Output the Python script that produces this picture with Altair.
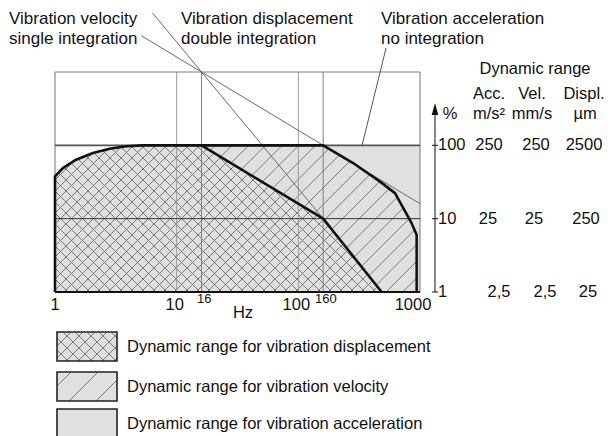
import numpy as np
import pandas as pd
import altair as alt

# ---------------- values ----------------
freq_ticks = [1, 10, 100, 1000]
freq_tick_labels = ["1", "10", "100", "1000"]
freq_marks = [16, 160]
freq_mark_labels = ["16", "160"]
grid_freqs = [10, 16, 100, 160]

pct_ticks = [100, 10, 1]
pct_tick_labels = ["100", "10", "1"]

# rising edge at low frequencies (shared by the three ranges)
curve_f = [1, 1.16, 1.49, 2.05, 2.81, 3.85, 5.25]
curve_p = [37.6, 49, 63.7, 78.7, 90, 97, 100]
# displacement range falls off from 16 Hz
disp_f = [16, 160, 484]
disp_p = [100, 10, 1]
# velocity range falls off from 160 Hz
vel_f = [160, 282, 469, 623, 729, 855, 939, 939]
vel_p = [100, 57.4, 32, 22.3, 13.9, 8.6, 6.0, 1]
# acceleration range stays flat up to 1000 Hz
acc_f = [1000, 1000]
acc_p = [100, 1]

# slope lines of the integrations and the leader to the acceleration label
velline_f = [5.1, 1000]
velline_p = [3140, 16]
displine_f = [6.3, 160]
displine_p = [6450, 10]
accline_f = [526, 334]
accline_p = [2125, 100]

top_labels = [["Vibration velocity", "single integration"],
              ["Vibration displacement", "double integration"],
              ["Vibration acceleration", "no integration"]]
table_title = "Dynamic range"
table_head = ["Acc.", "Vel.", "Displ."]
table_units = ["m/s²", "mm/s", "µm"]
table_vals = [["250", "250", "2500"], ["25", "25", "250"], ["2,5", "2,5", "25"]]
legend_labels = ["Dynamic range for vibration displacement",
                 "Dynamic range for vibration velocity",
                 "Dynamic range for vibration acceleration"]

# ---------------- layout ----------------
W, H = 365, 220
DX, DY = W / 3.0, H / 3.0
FONT = "Liberation Sans"
FS = 16.5
GRAY_FILL = "#e0e0e0"
HATCH = "#7a7a7a"

xs = alt.Scale(type="log", domain=[1, 1000], nice=False)
ys = alt.Scale(type="log", domain=[1, 1000], nice=False)


def hatch(us, vs, sign, step, phase=0.0):
    """Clip the family of lines v - sign*u = c to a polygon given in (u, v)."""
    u = np.asarray(us, float)
    v = np.asarray(vs, float)
    s = v - sign * u
    segs = []
    c = np.floor((s.min() - phase) / step) * step + phase
    n = len(u)
    while c <= s.max():
        pts = []
        for i in range(n):
            j = (i + 1) % n
            s1, s2 = s[i], s[j]
            if (s1 <= c < s2) or (s2 <= c < s1):
                t = (c - s1) / (s2 - s1)
                pts.append((u[i] + t * (u[j] - u[i]), v[i] + t * (v[j] - v[i])))
        pts.sort()
        for k in range(0, len(pts) - 1, 2):
            segs.append((pts[k][0], pts[k][1], pts[k + 1][0], pts[k + 1][1]))
        c += step
    return segs


def data_hatch(fs, ps, sign, step, phase=0.0):
    us = np.log10(fs) * DX
    vs = np.log10(ps) * DY
    segs = hatch(us, vs, sign, step, phase)
    rows = [dict(x=10 ** (a / DX), y=10 ** (b / DY), x2=10 ** (c / DX), y2=10 ** (d / DY))
            for a, b, c, d in segs]
    return pd.DataFrame(rows)


def pixel_hatch(x0, y0, x1, y1, sign, step, phase=0.0):
    us = [x0, x1, x1, x0]
    vs = [H - y1, H - y1, H - y0, H - y0]
    segs = hatch(us, vs, sign, step, phase)
    rows = [dict(px=a, py=H - b, px2=c, py2=H - d) for a, b, c, d in segs]
    return pd.DataFrame(rows)


def seg_rule(df, color, width=1.0):
    return alt.Chart(df).mark_rule(color=color, strokeWidth=width).encode(
        x=alt.X("x:Q", scale=xs, axis=None), y=alt.Y("y:Q", scale=ys, axis=None),
        x2="x2:Q", y2="y2:Q")


def pix_rule(df, color, width=1.0):
    return alt.Chart(df).mark_rule(color=color, strokeWidth=width).encode(
        x=alt.X("px:Q", scale=None), y=alt.Y("py:Q", scale=None),
        x2="px2:Q", y2="py2:Q")


def path_line(fs, ps, color, width, dash=None):
    df = pd.DataFrame({"f": fs, "p": ps, "i": range(len(fs))})
    kw = dict(color=color, strokeWidth=width, strokeJoin="round", strokeCap="butt")
    if dash:
        kw["strokeDash"] = dash
    return alt.Chart(df).mark_line(**kw).encode(
        x=alt.X("f:Q", scale=xs, axis=None), y=alt.Y("p:Q", scale=ys, axis=None),
        order="i:Q")


def area(fs, ps, color):
    df = pd.DataFrame({"f": fs, "p": ps, "base": [1] * len(fs)})
    return alt.Chart(df).mark_area(color=color, interpolate="linear").encode(
        x=alt.X("f:Q", scale=xs, axis=None), y=alt.Y("p:Q", scale=ys, axis=None),
        y2="base:Q")


def pix_text(df, size=FS, align="left", baseline="alphabetic"):
    return alt.Chart(df).mark_text(font=FONT, fontSize=size, align=align,
                                   baseline=baseline, color="#111").encode(
        x=alt.X("px:Q", scale=None), y=alt.Y("py:Q", scale=None), text="t:N")


# ---------------- plot area fills and hatching ----------------
acc_area = area(curve_f + [acc_f[0]], curve_p + [acc_p[0]], GRAY_FILL)
vel_poly_f = [1] + curve_f + vel_f
vel_poly_p = [1] + curve_p + vel_p
disp_poly_f = [1] + curve_f + disp_f
disp_poly_p = [1] + curve_p + disp_p

vel_hatch = seg_rule(data_hatch(vel_poly_f, vel_poly_p, 1, 16.7, 3.0), HATCH, 1)
disp_area = area(curve_f + disp_f, curve_p + disp_p, GRAY_FILL)
disp_hatch_a = seg_rule(data_hatch(disp_poly_f, disp_poly_p, 1, 11.0, 2.0), HATCH, 1)
disp_hatch_b = seg_rule(data_hatch(disp_poly_f, disp_poly_p, -1, 11.0, 2.0), HATCH, 1)

# ---------------- grid and frame ----------------
vgrid = alt.Chart(pd.DataFrame({"f": grid_freqs, "lo": 1, "hi": 1000,
                                "c": ["a", "b", "a", "b"]})).mark_rule(strokeWidth=1).encode(
    x=alt.X("f:Q", scale=xs, axis=None), y=alt.Y("lo:Q", scale=ys, axis=None), y2="hi:Q",
    color=alt.Color("c:N", scale=alt.Scale(domain=["a", "b"], range=["#9a9a9a", "#808080"]),
                    legend=None))
frame_side = alt.Chart(pd.DataFrame({"f": [1, 1000], "lo": 1, "hi": 1000})).mark_rule(
    color="#8a8a8a", strokeWidth=1.2).encode(
    x=alt.X("f:Q", scale=xs, axis=None), y=alt.Y("lo:Q", scale=ys, axis=None), y2="hi:Q")
frame_top = alt.Chart(pd.DataFrame({"p": [1000], "lo": 1, "hi": 1000})).mark_rule(
    color="#808080", strokeWidth=1).encode(
    y=alt.Y("p:Q", scale=ys, axis=None), x=alt.X("lo:Q", scale=xs, axis=None), x2="hi:Q")
hline10 = alt.Chart(pd.DataFrame({"p": [10], "lo": 1, "hi": 1000})).mark_rule(
    color="#333", strokeWidth=1).encode(
    y=alt.Y("p:Q", scale=ys, axis=None), x=alt.X("lo:Q", scale=xs, axis=None), x2="hi:Q")
hline100 = alt.Chart(pd.DataFrame({"p": [100], "lo": 1, "hi": 1000})).mark_rule(
    color="#555", strokeWidth=1.6).encode(
    y=alt.Y("p:Q", scale=ys, axis=None), x=alt.X("lo:Q", scale=xs, axis=None), x2="hi:Q")

# ---------------- slope lines ----------------
l_vel = path_line(velline_f, velline_p, "#6a6a6a", 1)
l_disp = path_line(displine_f, displine_p, "#6a6a6a", 1)
l_acc = path_line(accline_f, accline_p, "#555", 1)

# ---------------- thick outlines ----------------
o_vel = path_line(vel_poly_f, vel_poly_p, "#111", 2.6)
o_disp = path_line(disp_f, disp_p, "#111", 2.6)
o_bottom = path_line([1, 1000], [1, 1], "#111", 2.2)

# ---------------- x labels ----------------
xlab_rows = []
xlab_dx = [0, -2, -2, -7]
for f, t, d in zip(freq_ticks, freq_tick_labels, xlab_dx):
    xlab_rows.append(dict(px=np.log10(f) * DX + d, py=238, t=t))
xlab = pix_text(pd.DataFrame(xlab_rows), align="center")
sup_rows = [dict(px=np.log10(f) * DX + 2.8, py=231, t=t) for f, t in zip(freq_marks, freq_mark_labels)]
suplab = pix_text(pd.DataFrame(sup_rows), size=13, align="center")
hz = pix_text(pd.DataFrame([dict(px=188, py=246, t="Hz")]), align="center")

# ---------------- top annotation texts ----------------
top_x = [-46, 126, 326]
top_rows = []
for (a, b), x in zip(top_labels, top_x):
    top_rows.append(dict(px=x, py=-48.5, t=a))
    top_rows.append(dict(px=x, py=-28.5, t=b))
top_text = pix_text(pd.DataFrame(top_rows), size=17)

# ---------------- right axis ----------------
AX = 380
axis_line = alt.Chart(pd.DataFrame({"p": [1]})).mark_rule(color="#111", strokeWidth=1).encode(
    x=alt.value(AX), y=alt.Y("p:Q", scale=ys, axis=None), y2=alt.value(40))
arrow = alt.Chart(pd.DataFrame({"p": [1]})).mark_point(
    shape="M0,-1L0.55,1L-0.55,1Z", filled=True, size=144, color="#111", opacity=1).encode(
    x=alt.value(AX), y=alt.value(37))
ticks = alt.Chart(pd.DataFrame({"p": pct_ticks})).mark_rule(color="#111", strokeWidth=1).encode(
    x=alt.value(AX - 3), x2=alt.value(AX + 3), y=alt.Y("p:Q", scale=ys, axis=None))
tick_lab = alt.Chart(pd.DataFrame({"p": pct_ticks, "t": pct_tick_labels})).mark_text(
    font=FONT, fontSize=FS, align="left", baseline="middle", color="#111").encode(
    x=alt.value(AX + 3), y=alt.Y("p:Q", scale=ys, axis=None), text="t:N")
pct = pix_text(pd.DataFrame([dict(px=395, py=47, t="%")]), align="center")

# ---------------- table ----------------
head_x = [434, 477, 529]
hdr_rows = [dict(px=480, py=2, t=table_title)]
for t, x in zip(table_head, head_x):
    hdr_rows.append(dict(px=x, py=27, t=t))
for t, x in zip(table_units, [434, 477, 530]):
    hdr_rows.append(dict(px=x, py=47, t=t))
hdr = pix_text(pd.DataFrame(hdr_rows), align="center")
val_x = [[434, 481, 529], [433, 479, 531], [444, 490, 533]]
val_rows = []
for p, row, xr in zip(pct_ticks, table_vals, val_x):
    for t, x in zip(row, xr):
        val_rows.append(dict(px=x, p=p, t=t))
vals = alt.Chart(pd.DataFrame(val_rows)).mark_text(
    font=FONT, fontSize=FS, align="center", baseline="middle", color="#111").encode(
    x=alt.X("px:Q", scale=None), y=alt.Y("p:Q", scale=ys, axis=None), text="t:N")

# ---------------- legend ----------------
box_top = [260, 300, 337]
BX0, BX1, BHT = 2, 62, 29
box_df = pd.DataFrame([dict(px=BX0, py=t, px2=BX1, py2=t + BHT) for t in box_top])
box_fill = alt.Chart(box_df).mark_rect(color=GRAY_FILL).encode(
    x=alt.X("px:Q", scale=None), y=alt.Y("py:Q", scale=None), x2="px2:Q", y2="py2:Q")
box_line = alt.Chart(box_df).mark_rect(fillOpacity=0, stroke="#222", strokeWidth=1.6).encode(
    x=alt.X("px:Q", scale=None), y=alt.Y("py:Q", scale=None), x2="px2:Q", y2="py2:Q")
lh1 = pd.concat([pixel_hatch(BX0, box_top[0], BX1, box_top[0] + BHT, 1, 12, 4),
                 pixel_hatch(BX0, box_top[0], BX1, box_top[0] + BHT, -1, 12, 4)])
lh2 = pixel_hatch(BX0, box_top[1], BX1, box_top[1] + BHT, 1, 27, 12)
leg_h1 = pix_rule(lh1, HATCH, 1)
leg_h2 = pix_rule(lh2, HATCH, 1)
leg_text = pix_text(pd.DataFrame([dict(px=72, py=t + BHT / 2 + 0.5, t=l)
                                  for t, l in zip(box_top, legend_labels)]),
                    baseline="middle")

chart = alt.layer(
    acc_area, vel_hatch, disp_area, disp_hatch_a, disp_hatch_b,
    vgrid, frame_side, frame_top, hline10, hline100,
    l_vel, l_disp, l_acc,
    o_vel, o_disp, o_bottom,
    xlab, suplab, hz, top_text,
    axis_line, arrow, ticks, tick_lab, pct, hdr, vals,
    box_fill, leg_h1, leg_h2, box_line, leg_text,
).properties(
    width=W, height=H,
    padding={"left": 47, "top": 64, "right": 184, "bottom": 150},
    autosize=alt.AutoSizeParams(type="none"),
    background="white",
).configure_view(stroke=None)

chart.save("out.html", embed_options={"renderer": "svg", "actions": False})
